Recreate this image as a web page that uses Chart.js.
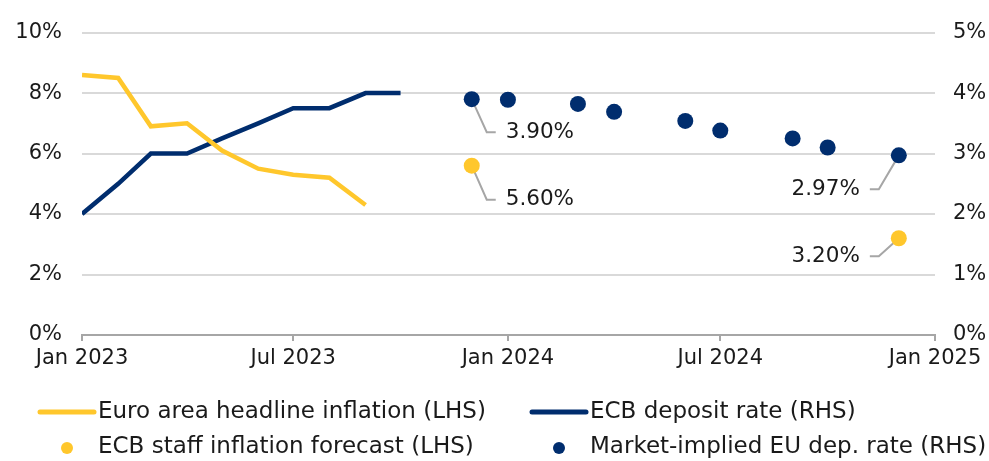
<!DOCTYPE html>
<html>
<head>
<meta charset="utf-8">
<script src="https://cdn.jsdelivr.net/npm/chart.js@4.4.1/dist/chart.umd.min.js"></script>
<style>
  html, body { margin: 0; padding: 0; background: #fff; }
  #wrap { position: relative; width: 989px; height: 461px; }
</style>
</head>
<body>
<div id="wrap"><canvas id="chart"></canvas></div>
<script>
// --- data ---
const inflationMonths = ['2023-01', '2023-02', '2023-03', '2023-04', '2023-05', '2023-06', '2023-07', '2023-08', '2023-09'];
const inflationValues = [8.6, 8.5, 6.9, 7.0, 6.1, 5.5, 5.3, 5.2, 4.3];

const depositMonths = ['2023-01', '2023-02', '2023-03', '2023-04', '2023-05', '2023-06', '2023-07', '2023-08', '2023-09', '2023-10'];
const depositValues = [2.0, 2.5, 3.0, 3.0, 3.25, 3.5, 3.75, 3.75, 4.0, 4.0];

const forecastMonths = ['2023-12', '2024-12'];
const forecastValues = [5.6, 3.2];

const marketMonths = ['2023-12', '2024-01', '2024-03', '2024-04', '2024-06', '2024-07', '2024-09', '2024-10', '2024-12'];
const marketValues = [3.90, 3.89, 3.82, 3.69, 3.54, 3.38, 3.25, 3.10, 2.97];

const tickMonths = ['2023-01', '2023-07', '2024-01', '2024-07', '2025-01'];
const tickLabels = ['Jan 2023', 'Jul 2023', 'Jan 2024', 'Jul 2024', 'Jan 2025'];
const leftTicks = [0, 2, 4, 6, 8, 10];
const rightTicks = [0, 1, 2, 3, 4, 5];

const YELLOW = '#FFC72C';
const NAVY = '#002D6E';
const TEXT = '#1a1a1a';
const FONT = '"DejaVu Sans", "Noto Sans", sans-serif';
const FONT_SIZE = 21;
const LEGEND_SIZE = 23;

const toTime = s => {
  const [y, m] = s.split('-').map(Number);
  return Date.UTC(y, m - 1, 1);
};
const points = (months, values) => months.map((m, i) => ({ x: toTime(m), y: values[i] }));

// callouts: which point gets a leader line and value label
const callouts = [
  { ds: 3, i: 0, dx: 15, dy: 33 },
  { ds: 2, i: 0, dx: 15, dy: 34 },
  { ds: 3, i: 8, dx: -20, dy: 34 },
  { ds: 2, i: 1, dx: -20, dy: 18 }
];

// legend layout: column x, row y
const legendCols = [40, 532];
const legendRows = [412, 447];
const legendOrder = [
  { ds: 0, col: 0, row: 0 },
  { ds: 1, col: 1, row: 0 },
  { ds: 2, col: 0, row: 1 },
  { ds: 3, col: 1, row: 1 }
];

const calloutPlugin = {
  id: 'callouts',
  beforeDatasetsDraw(chart) {
    const ctx = chart.ctx;
    ctx.save();
    ctx.strokeStyle = '#a6a6a6';
    ctx.lineWidth = 2;
    callouts.forEach(c => {
      const pt = chart.getDatasetMeta(c.ds).data[c.i];
      const dir = c.dx > 0 ? 1 : -1;
      ctx.beginPath();
      ctx.moveTo(pt.x, pt.y);
      ctx.lineTo(pt.x + c.dx, pt.y + c.dy);
      ctx.lineTo(pt.x + c.dx + 9 * dir, pt.y + c.dy);
      ctx.stroke();
    });
    ctx.restore();
  },
  afterDatasetsDraw(chart) {
    const ctx = chart.ctx;
    ctx.save();
    ctx.font = '21.5px ' + FONT;
    ctx.fillStyle = TEXT;
    ctx.textBaseline = 'middle';
    callouts.forEach(c => {
      const pt = chart.getDatasetMeta(c.ds).data[c.i];
      const dir = c.dx > 0 ? 1 : -1;
      const value = chart.data.datasets[c.ds].data[c.i].y;
      ctx.textAlign = dir > 0 ? 'left' : 'right';
      ctx.fillText(value.toFixed(2) + '%', pt.x + c.dx + 19 * dir, pt.y + c.dy);
    });
    ctx.restore();
  }
};

const legendPlugin = {
  id: 'bottomLegend',
  afterDraw(chart) {
    const ctx = chart.ctx;
    ctx.save();
    ctx.font = LEGEND_SIZE + 'px ' + FONT;
    ctx.fillStyle = TEXT;
    ctx.textBaseline = 'middle';
    ctx.textAlign = 'left';
    legendOrder.forEach(item => {
      const ds = chart.data.datasets[item.ds];
      const x = legendCols[item.col];
      const y = legendRows[item.row];
      if (ds.showLine === false) {
        ctx.fillStyle = ds.backgroundColor;
        ctx.beginPath();
        ctx.arc(x + 27, y + 1, 6, 0, Math.PI * 2);
        ctx.fill();
      } else {
        ctx.strokeStyle = ds.borderColor;
        ctx.lineWidth = 5;
        ctx.lineCap = 'round';
        ctx.beginPath();
        ctx.moveTo(x, y);
        ctx.lineTo(x + 54, y);
        ctx.stroke();
      }
      ctx.fillStyle = TEXT;
      ctx.fillText(ds.label, x + 58, y);
    });
    ctx.restore();
  }
};

new Chart(document.getElementById('chart'), {
  type: 'line',
  data: {
    datasets: [
      {
        label: 'Euro area headline inflation (LHS)',
        data: points(inflationMonths, inflationValues),
        yAxisID: 'yL',
        borderColor: YELLOW,
        backgroundColor: YELLOW,
        borderWidth: 4.5,
        pointRadius: 0
      },
      {
        label: 'ECB deposit rate (RHS)',
        data: points(depositMonths, depositValues),
        yAxisID: 'yR',
        borderColor: NAVY,
        backgroundColor: NAVY,
        borderWidth: 4.5,
        pointRadius: 0
      },
      {
        label: 'ECB staff inflation forecast (LHS)',
        data: points(forecastMonths, forecastValues),
        yAxisID: 'yL',
        showLine: false,
        backgroundColor: YELLOW,
        borderColor: YELLOW,
        pointRadius: 8,
        pointBorderWidth: 0
      },
      {
        label: 'Market-implied EU dep. rate (RHS)',
        data: points(marketMonths, marketValues),
        yAxisID: 'yR',
        showLine: false,
        backgroundColor: NAVY,
        borderColor: NAVY,
        pointRadius: 8,
        pointBorderWidth: 0
      }
    ]
  },
  options: {
    responsive: true,
    maintainAspectRatio: false,
    animation: false,
    layout: { padding: { top: 29, bottom: 86, left: 0, right: 0 } },
    plugins: {
      legend: { display: false },
      tooltip: { enabled: false }
    },
    scales: {
      x: {
        type: 'linear',
        min: toTime(tickMonths[0]),
        max: toTime(tickMonths[tickMonths.length - 1]),
        afterBuildTicks: axis => { axis.ticks = tickMonths.map(m => ({ value: toTime(m) })); },
        afterFit: scale => { scale.height = 40; },
        ticks: {
          autoSkip: false,
          maxRotation: 0,
          padding: 5,
          color: TEXT,
          font: { family: FONT, size: FONT_SIZE },
          callback: value => tickLabels[tickMonths.findIndex(m => toTime(m) === value)]
        },
        grid: { display: true, drawOnChartArea: false, drawTicks: true, tickLength: 6, color: '#a6a6a6', lineWidth: 2 },
        border: { display: true, color: '#a6a6a6', width: 2 }
      },
      yL: {
        position: 'left',
        min: leftTicks[0],
        max: leftTicks[leftTicks.length - 1],
        afterBuildTicks: axis => { axis.ticks = leftTicks.map(v => ({ value: v })); },
        afterFit: scale => { scale.width = 82; },
        ticks: {
          padding: 20,
          color: TEXT,
          font: { family: FONT, size: FONT_SIZE },
          callback: v => v + '%'
        },
        grid: { color: '#d9d9d9', lineWidth: 2, drawTicks: false },
        border: { display: false }
      },
      yR: {
        position: 'right',
        min: rightTicks[0],
        max: rightTicks[rightTicks.length - 1],
        afterBuildTicks: axis => { axis.ticks = rightTicks.map(v => ({ value: v })); },
        afterFit: scale => { scale.width = 54; },
        ticks: {
          padding: 18,
          color: TEXT,
          font: { family: FONT, size: FONT_SIZE },
          callback: v => v + '%'
        },
        grid: { display: false, drawTicks: false },
        border: { display: false }
      }
    }
  },
  plugins: [calloutPlugin, legendPlugin]
});
</script>
</body>
</html>
